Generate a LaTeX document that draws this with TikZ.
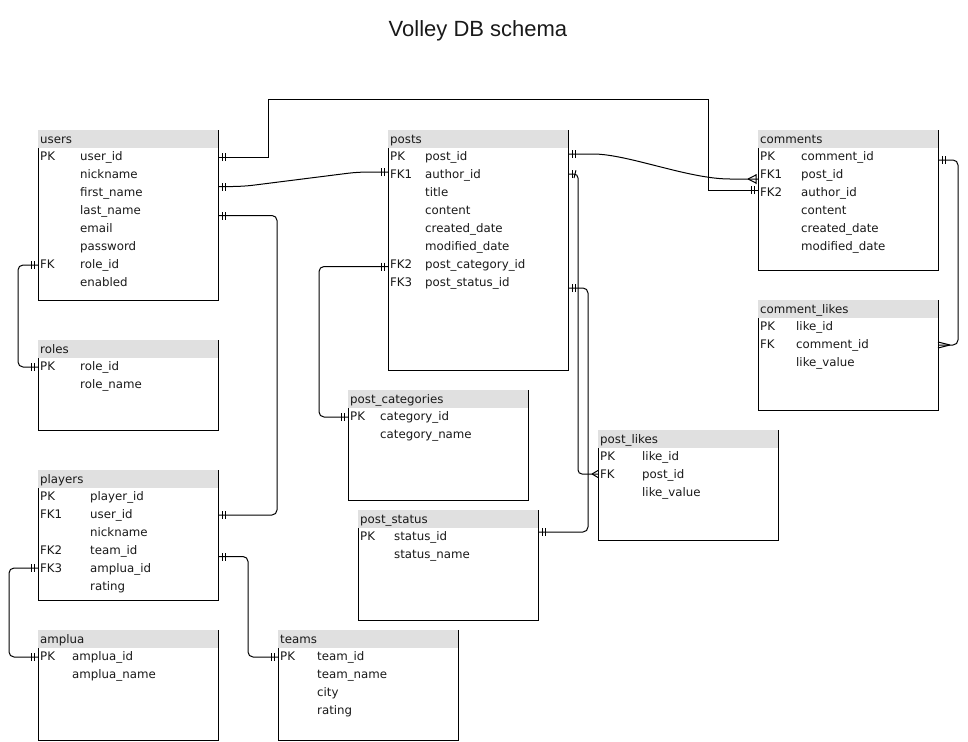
\documentclass[tikz,border=0pt]{standalone}
\usepackage{fontspec}
\setmainfont{DejaVu Sans}
\newfontfamily\titlefont{Liberation Sans}
\usetikzlibrary{calc,decorations.markings}
\definecolor{hdrgray}{RGB}{224,224,224}
\definecolor{txtcol}{RGB}{25,25,25}
\tikzset{
  tabnode/.style={anchor=north west, inner sep=0pt, outer sep=0pt, draw=none},
  tabline/.style={line width=1pt, black},
  hdrtext/.style={anchor=base west, inner sep=0pt, text=txtcol, font=\fontsize{11.8}{14}\selectfont},
  rowtext/.style={anchor=base west, inner sep=0pt, text=txtcol, font=\fontsize{11.8}{14}\selectfont},
  titletext/.style={anchor=base, inner sep=0pt, text=txtcol, font=\titlefont\fontsize{22}{26}\selectfont},
  conn/.style={line width=1pt, black, rounded corners=5pt},
  tickline/.style={line width=1pt, black, solid, sharp corners},
  tickS/.style={postaction={decorate, decoration={markings,
      mark=at position 4pt with {\draw[tickline] (0,-4pt) -- (0,4pt);},
      mark=at position 7pt with {\draw[tickline] (0,-4pt) -- (0,4pt);}}}},
  tickE/.style={postaction={decorate, decoration={markings,
      mark=at position -4pt with {\draw[tickline] (0,-4pt) -- (0,4pt);},
      mark=at position -7pt with {\draw[tickline] (0,-4pt) -- (0,4pt);}}}},
  crowbarE/.style={postaction={decorate, decoration={markings,
      mark=at position 1 with {\draw[tickline] (-10pt,0) -- (-2pt,4pt) (-10pt,0) -- (-2pt,-4pt) (-2pt,-5pt) -- (-2pt,5pt);}}}},
  crowE/.style={postaction={decorate, decoration={markings,
      mark=at position 1 with {\draw[tickline] (-12pt,0) -- (0,3pt) (-12pt,0) -- (0,-3pt);}}}},
  crowsmallE/.style={postaction={decorate, decoration={markings,
      mark=at position 1 with {\draw[tickline] (-6pt,0) -- (0,3.5pt) (-6pt,0) -- (0,-3.5pt);}}}},
}
% table: name, x, y, width, height, title
\newcommand\ertab[6]{%
  \node[tabnode, minimum width=#4pt, minimum height=#5pt] (#1) at (#2,#3) {};
  \fill[hdrgray] (#1.north west) rectangle ($(#1.north east)+(0,18)$);
  \draw[tabline] (#1.north east) -- (#1.south east) -- (#1.south west) -- ($(#1.north west)+(0,18)$);
  \node[hdrtext] (#1-hdr) at ($(#1.north west)+(2,13.5)$) {#6};
}
% row: table, index, key, field offset, field
\newcommand\errow[5]{%
  \coordinate (#1-r#2) at ($(#1.north west)+(0,{18*#2+8})$);
  \node[rowtext] (#1-k#2) at ($(#1-r#2)+(2,4.5)$) {#3};
  \node[rowtext] (#1-f#2) at ($(#1-r#2)+(#4,4.5)$) {#5};
}
\begin{document}
\begin{tikzpicture}[x=1pt,y=-1pt]
\useasboundingbox (0,0) rectangle (968,741);
\node[titletext] (title) at (478,37) {Volley DB schema};

\ertab{users}{38}{130}{180}{170}{users}
\errow{users}{1}{PK}{42}{user\_id}
\errow{users}{2}{}{42}{nickname}
\errow{users}{3}{}{42}{first\_name}
\errow{users}{4}{}{42}{last\_name}
\errow{users}{5}{}{42}{email}
\errow{users}{6}{}{42}{password}
\errow{users}{7}{FK}{42}{role\_id}
\errow{users}{8}{}{42}{enabled}

\ertab{posts}{388}{130}{180}{240}{posts}
\errow{posts}{1}{PK}{37}{post\_id}
\errow{posts}{2}{FK1}{37}{author\_id}
\errow{posts}{3}{}{37}{title}
\errow{posts}{4}{}{37}{content}
\errow{posts}{5}{}{37}{created\_date}
\errow{posts}{6}{}{37}{modified\_date}
\errow{posts}{7}{FK2}{37}{post\_category\_id}
\errow{posts}{8}{FK3}{37}{post\_status\_id}

\ertab{comments}{758}{130}{180}{140}{comments}
\errow{comments}{1}{PK}{43}{comment\_id}
\errow{comments}{2}{FK1}{43}{post\_id}
\errow{comments}{3}{FK2}{43}{author\_id}
\errow{comments}{4}{}{43}{content}
\errow{comments}{5}{}{43}{created\_date}
\errow{comments}{6}{}{43}{modified\_date}

\ertab{cl}{758}{300}{180}{110}{comment\_likes}
\errow{cl}{1}{PK}{38}{like\_id}
\errow{cl}{2}{FK}{38}{comment\_id}
\errow{cl}{3}{}{38}{like\_value}

\ertab{roles}{38}{340}{180}{90}{roles}
\errow{roles}{1}{PK}{42}{role\_id}
\errow{roles}{2}{}{42}{role\_name}

\ertab{pc}{348}{390}{180}{110}{post\_categories}
\errow{pc}{1}{PK}{32}{category\_id}
\errow{pc}{2}{}{32}{category\_name}

\ertab{pl}{598}{430}{180}{110}{post\_likes}
\errow{pl}{1}{PK}{44}{like\_id}
\errow{pl}{2}{FK}{44}{post\_id}
\errow{pl}{3}{}{44}{like\_value}

\ertab{ps}{358}{510}{180}{110}{post\_status}
\errow{ps}{1}{PK}{36}{status\_id}
\errow{ps}{2}{}{36}{status\_name}

\ertab{players}{38}{470}{180}{130}{players}
\errow{players}{1}{PK}{52}{player\_id}
\errow{players}{2}{FK1}{52}{user\_id}
\errow{players}{3}{}{52}{nickname}
\errow{players}{4}{FK2}{52}{team\_id}
\errow{players}{5}{FK3}{52}{amplua\_id}
\errow{players}{6}{}{52}{rating}

\ertab{amplua}{38}{630}{180}{110}{amplua}
\errow{amplua}{1}{PK}{34}{amplua\_id}
\errow{amplua}{2}{}{34}{amplua\_name}

\ertab{teams}{278}{630}{180}{110}{teams}
\errow{teams}{1}{PK}{39}{team\_id}
\errow{teams}{2}{}{39}{team\_name}
\errow{teams}{3}{}{39}{city}
\errow{teams}{4}{}{39}{rating}

% connectors
% users.user_id -> comments.author_id
\draw[conn, sharp corners, tickS, tickE] ($(users.east |- users-r1)+(0,1)$) -- ++(50,0) -- ++(0,-57)
  -| ($(comments.west |- comments-r3)+(-50,-2)$) -- ($(comments.west |- comments-r3)+(0,-2)$);
% users -> posts.author_id
\draw[conn, rounded corners=10pt, tickS, tickE] ($(users.east |- users-r3)+(0,-5.5)$) -- ++(25,0)
  -- ($(posts.west |- posts-r2)+(-30,-2)$) -- ($(posts.west |- posts-r2)+(0,-2)$);
% users -> players.user_id
\draw[conn, tickS, tickE] ($(users.east |- users-r4)+(0,5.5)$) -| ($(players.east |- players-r2)+(59,1)$)
  -- ($(players.east |- players-r2)+(0,1)$);
% users.role_id -> roles.role_id
\draw[conn, tickS, tickE] ($(users.west |- users-r7)+(0,1)$) -| ($(roles.west |- roles-r1)+(-20,1)$)
  -- ($(roles.west |- roles-r1)+(0,1)$);
% posts.post_category_id -> post_categories.category_id
\draw[conn, tickS, tickE] ($(posts.west |- posts-r7)+(0,2.5)$) -| ($(pc.west |- pc-r1)+(-29,1)$)
  -- ($(pc.west |- pc-r1)+(0,1)$);
% posts.post_id -> comments.post_id
\coordinate (c6s) at ($(posts.east |- posts-r1)+(0,-2)$);
\coordinate (c6e) at ($(comments.west |- comments-r2)+(0,5)$);
\draw[conn, tickS, crowbarE] (c6s) -- ($(c6s)+(20,0)$) .. controls ($(c6s)+(60,0)$) and ($(c6e)+(-70,0)$) .. ($(c6e)+(-23,0)$) -- (c6e);
% posts -> post_likes.post_id
\draw[conn, rounded corners=4pt, tickS, crowsmallE] (posts.east |- posts-r2) -| ($(pl.west |- pl-r2)+(-20,0)$)
  -- (pl.west |- pl-r2);
% posts.post_status_id -> post_status.status_id
\draw[conn, tickS, tickE] ($(posts.east |- posts-r8)+(0,6)$) -| ($(ps.east |- ps-r1)+(50,-4)$)
  -- ($(ps.east |- ps-r1)+(0,-4)$);
% comments.comment_id -> comment_likes.comment_id
\draw[conn, tickS, crowE] ($(comments.east |- comments-r1)+(0,4)$) -| ($(cl.east |- cl-r2)+(20,1)$)
  -- ($(cl.east |- cl-r2)+(0,1)$);
% players.team_id -> teams.team_id
\draw[conn, tickS, tickE] ($(players.east |- players-r4)+(0,6.5)$) -| ($(teams.west |- teams-r1)+(-30,1)$)
  -- ($(teams.west |- teams-r1)+(0,1)$);
% players.amplua_id -> amplua.amplua_id
\draw[conn, tickS, tickE] (players.west |- players-r5) -| ($(amplua.west |- amplua-r1)+(-29,1)$)
  -- ($(amplua.west |- amplua-r1)+(0,1)$);
\end{tikzpicture}
\end{document}
